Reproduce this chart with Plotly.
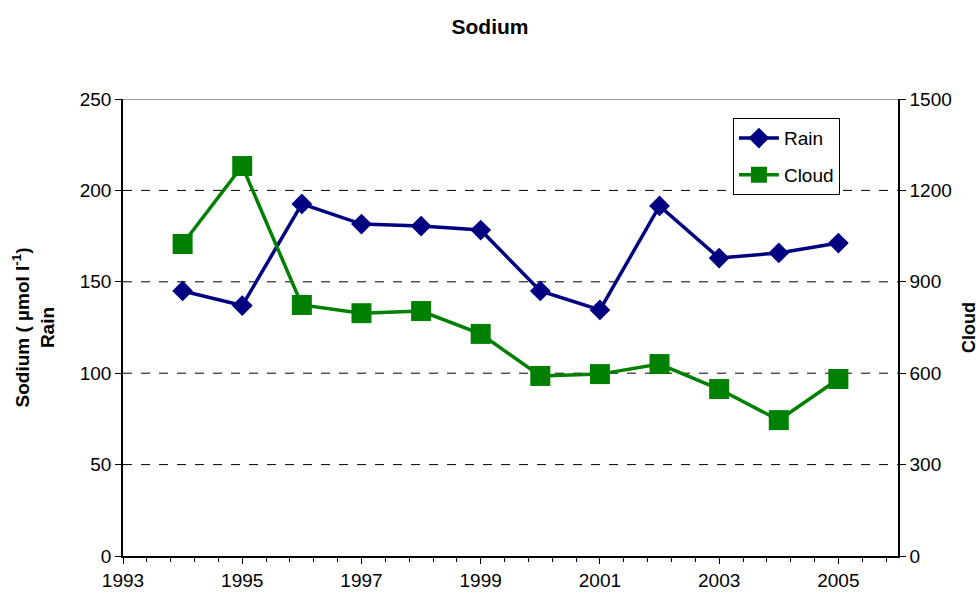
import plotly.graph_objects as go

years = [1994, 1995, 1996, 1997, 1998, 1999, 2000, 2001, 2002, 2003, 2004, 2005]
rain = [145, 137, 192.6, 181.6, 180.5, 178.3, 145, 134.6, 191.5, 163, 165.8, 171.2]
cloud = [1024, 1280, 824, 797, 804, 729, 591, 597, 630, 548, 446, 581]

left_ticks = [0, 50, 100, 150, 200, 250]
right_ticks = [0, 300, 600, 900, 1200, 1500]
x_ticks = [1993, 1995, 1997, 1999, 2001, 2003, 2005]

FONT = "Liberation Sans, Arial, sans-serif"
NAVY = "#000080"
GREEN = "#008000"

fig = go.Figure()
fig.add_trace(go.Scatter(
    x=years, y=rain, name="Rain", mode="lines+markers", legendgroup="rain",
    line=dict(color=NAVY, width=3.5),
    marker=dict(symbol="diamond", size=16, color=NAVY),
    yaxis="y",
))
fig.add_trace(go.Scatter(
    x=years, y=cloud, name="Cloud", mode="lines+markers", legendgroup="cloud",
    line=dict(color=GREEN, width=3.5),
    marker=dict(symbol="square", size=20, color=GREEN),
    yaxis="y2",
))

# dashed horizontal gridlines
for v in left_ticks[1:-1]:
    fig.add_shape(type="line", xref="paper", x0=0, x1=1, yref="y", y0=v, y1=v,
                  line=dict(color="black", width=1, dash="dash"), layer="below")
# top border of plot area
fig.add_shape(type="line", xref="paper", x0=0, x1=1, yref="y", y0=250, y1=250,
              line=dict(color="#808080", width=1.5), layer="below")

fig.update_layout(
    width=980, height=594,
    margin=dict(l=123, r=82, t=99, b=38),
    paper_bgcolor="white", plot_bgcolor="white",
    font=dict(family=FONT, size=19, color="black"),
    title=dict(text="<b>Sodium</b>", x=0.5, xref="container", xanchor="center",
               y=0.955, yanchor="middle", font=dict(size=21, family=FONT)),
    showlegend=True,
    legend=dict(x=0.787, y=0.958, xanchor="left", yanchor="top",
                bordercolor="black", borderwidth=1, bgcolor="white",
                font=dict(size=19, family=FONT), tracegroupgap=9,
                itemwidth=40),
    xaxis=dict(
        range=[1993, 2006], tickvals=x_ticks, ticktext=[str(t) for t in x_ticks],
        showgrid=False, zeroline=False, showline=True, linecolor="black", linewidth=1.5,
        ticks="outside", ticklen=6, tickcolor="black", automargin=False,
        minor=dict(dtick=0.4, tick0=1993, ticks="outside", ticklen=4, tickcolor="black"),
        tickfont=dict(size=19),
    ),
    yaxis=dict(
        range=[0, 250], tickvals=left_ticks, automargin=False,
        showgrid=False, zeroline=False, showline=True, linecolor="black", linewidth=1.5,
        ticks="outside", ticklen=6, tickcolor="black",
        title=dict(text="<b>Sodium ( µmol l<sup>-1</sup>)<br>Rain</b>", font=dict(size=19), standoff=20),
    ),
    yaxis2=dict(
        range=[0, 1500], tickvals=right_ticks, overlaying="y", side="right", automargin=False,
        showgrid=False, zeroline=False, showline=True, linecolor="black", linewidth=1.5,
        ticks="outside", ticklen=6, tickcolor="black",
        title=dict(text="<b>Cloud</b>", font=dict(size=18), standoff=12),
    ),
)

fig.write_html("out.html")
